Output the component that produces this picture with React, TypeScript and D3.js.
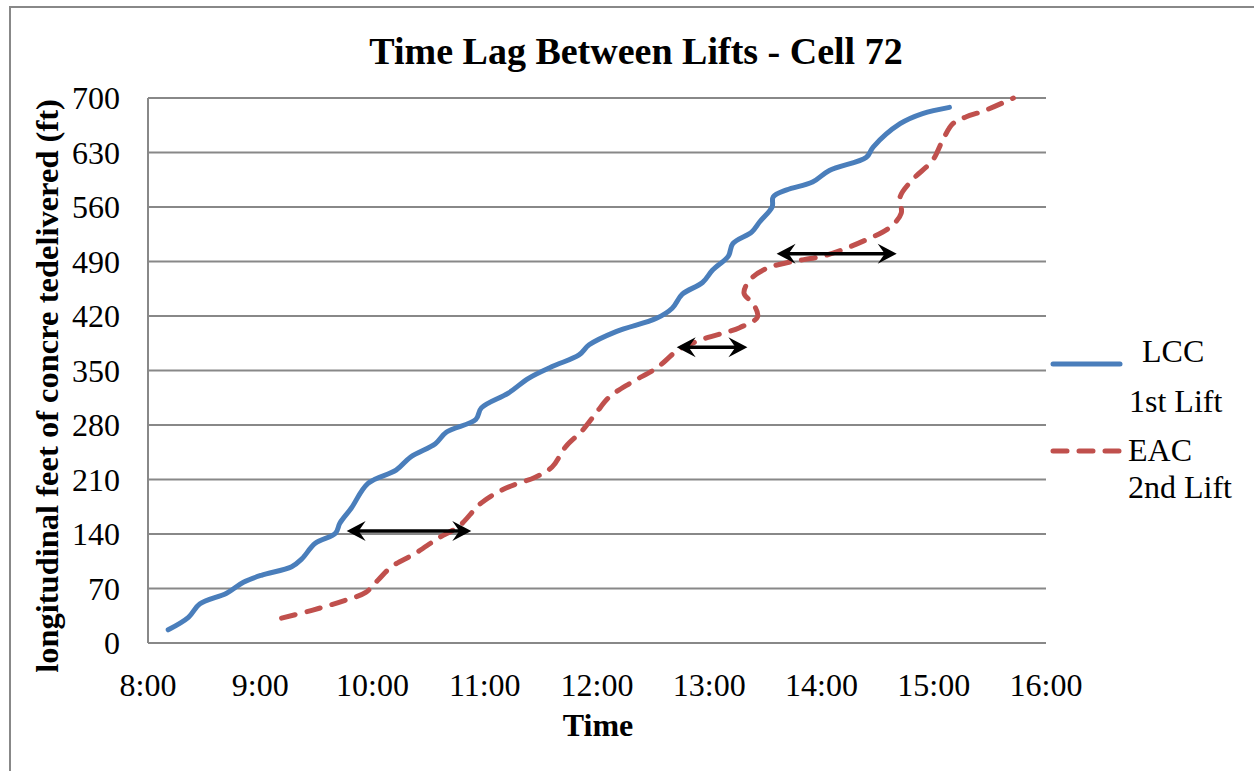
import React from "react";
import * as d3 from "d3";

// ---- data (time in decimal hours, feet) ----
const lccTime = [8.18, 8.36, 8.46, 8.7, 8.85, 9.01, 9.28, 9.37, 9.49, 9.67, 9.71, 9.81, 9.96, 10.21, 10.34, 10.56, 10.66, 10.92, 10.97, 11.21, 11.39, 11.6, 11.84, 11.93, 12.17, 12.53, 12.67, 12.76, 12.94, 13.03, 13.17, 13.21, 13.38, 13.45, 13.56, 13.57, 13.69, 13.92, 14.07, 14.4, 14.46, 14.7, 14.9, 15.14];
const lccFeet = [17, 33, 50, 64, 78, 87, 98, 108, 128, 141, 154, 173, 205, 222, 239, 256, 271, 287, 302, 321, 340, 355, 370, 383, 400, 417, 430, 448, 463, 479, 497, 513, 528, 541, 560, 573, 582, 592, 607, 624, 637, 667, 680, 688];

const eacTime = [9.19, 9.46, 9.76, 9.94, 10.05, 10.17, 10.38, 10.59, 10.77, 10.97, 11.19, 11.45, 11.6, 11.72, 11.87, 11.99, 12.11, 12.31, 12.53, 12.73, 12.94, 13.27, 13.43, 13.39, 13.31, 13.36, 13.51, 13.71, 14.04, 14.4, 14.61, 14.71, 14.7, 14.81, 14.99, 15.08, 15.17, 15.29, 15.44, 15.71];
const eacFeet = [32, 42, 55, 65, 81, 98, 115, 135, 150, 180, 199, 213, 226, 252, 273, 295, 316, 335, 353, 377, 390, 405, 419, 436, 449, 466, 481, 489, 498, 518, 534, 552, 573, 595, 620, 646, 667, 676, 683, 700];

// lag arrows: start time, end time, feet
const arrowStart = [9.77, 12.71, 13.6];
const arrowEnd = [10.88, 13.34, 14.67];
const arrowFeet = [144, 380, 500];

const xTickValues = [8, 9, 10, 11, 12, 13, 14, 15, 16];
const xTickLabels = ["8:00", "9:00", "10:00", "11:00", "12:00", "13:00", "14:00", "15:00", "16:00"];
const yTickValues = [0, 70, 140, 210, 280, 350, 420, 490, 560, 630, 700];

const seriesNames = ["LCC", "EAC"];
const seriesSub = ["1st Lift", "2nd Lift"];

const FONT = "'Times New Roman', 'Liberation Serif', serif";
const GRID = "#888888";
const BLUE = "#4a7ebb";
const RED = "#c0504d";

export default function App() {
  const W = 1254, H = 771;
  const left = 148, right = 1046, top = 98, bottom = 643;
  const x = d3.scaleLinear().domain([8, 16]).range([left, right]);
  const y = d3.scaleLinear().domain([0, 700]).range([bottom, top]);

  const line = d3
    .line<[number, number]>()
    .x((d) => x(d[0]))
    .y((d) => y(d[1]))
    .curve(d3.curveCatmullRom.alpha(0.5));

  const lccPts = lccTime.map((t, i) => [t, lccFeet[i]] as [number, number]);
  const eacPts = eacTime.map((t, i) => [t, eacFeet[i]] as [number, number]);

  const head = (tx: number, ty: number, dir: number) => {
    const L = 19, Wd = 10, N = 12;
    return `M${tx},${ty} L${tx - dir * L},${ty - Wd} L${tx - dir * N},${ty} L${tx - dir * L},${ty + Wd} Z`;
  };

  return (
    <div style={{ position: "absolute", left: 0, top: 0 }}>
      <svg width={W} height={H} style={{ display: "block", background: "#fff" }}>
        <rect x={10} y={7} width={1300} height={850} fill="none" stroke={GRID} strokeWidth={2} />
        <text x={636} y={64} textAnchor="middle" fontFamily={FONT} fontWeight="bold" fontSize={38}>
          Time Lag Between Lifts - Cell 72
        </text>

        {/* gridlines */}
        {yTickValues.map((v) => (
          <line key={v} x1={left} x2={right} y1={y(v)} y2={y(v)} stroke={GRID} strokeWidth={2} />
        ))}
        <line x1={left} x2={left} y1={top} y2={bottom} stroke={GRID} strokeWidth={2} />

        {/* y tick labels */}
        {yTickValues.map((v) => (
          <text key={v} x={120} y={y(v) + 11} textAnchor="end" fontFamily={FONT} fontSize={32}>
            {v}
          </text>
        ))}
        {/* x tick labels */}
        {xTickValues.map((t, i) => (
          <text key={t} x={x(t)} y={696} textAnchor="middle" fontFamily={FONT} fontSize={32}>
            {xTickLabels[i]}
          </text>
        ))}

        <text x={598} y={736} textAnchor="middle" fontFamily={FONT} fontWeight="bold" fontSize={32}>
          Time
        </text>
        <text
          transform={`translate(58,386) rotate(-90)`}
          textAnchor="middle"
          fontFamily={FONT}
          fontWeight="bold"
          fontSize={32.5}
        >
          longitudinal feet of concre tedelivered (ft)
        </text>

        {/* series */}
        <path d={line(lccPts) || ""} fill="none" stroke={BLUE} strokeWidth={5} strokeLinecap="round" strokeLinejoin="round" />
        <path
          d={line(eacPts) || ""}
          fill="none"
          stroke={RED}
          strokeWidth={5}
          strokeLinecap="round"
          strokeLinejoin="round"
          strokeDasharray="14 12"
        />

        {/* arrows */}
        {arrowFeet.map((v, i) => {
          const x1 = x(arrowStart[i]);
          const x2 = x(arrowEnd[i]);
          const yy = y(v);
          return (
            <g key={i}>
              <line x1={x1 + 10} x2={x2 - 10} y1={yy} y2={yy} stroke="#000" strokeWidth={3.5} />
              <path d={head(x1, yy, -1)} fill="#000" />
              <path d={head(x2, yy, 1)} fill="#000" />
            </g>
          );
        })}

        {/* legend */}
        <line x1={1053} x2={1120} y1={364} y2={364} stroke={BLUE} strokeWidth={5} strokeLinecap="round" />
        <text x={1142} y={362} fontFamily={FONT} fontSize={32}>{seriesNames[0]}</text>
        <text x={1129} y={412} fontFamily={FONT} fontSize={32}>{seriesSub[0]}</text>
        <line x1={1053} x2={1120} y1={451} y2={451} stroke={RED} strokeWidth={5} strokeLinecap="round" strokeDasharray="14 12" />
        <text x={1128} y={461} fontFamily={FONT} fontSize={32}>{seriesNames[1]}</text>
        <text x={1128} y={498} fontFamily={FONT} fontSize={32}>{seriesSub[1]}</text>
      </svg>
    </div>
  );
}
